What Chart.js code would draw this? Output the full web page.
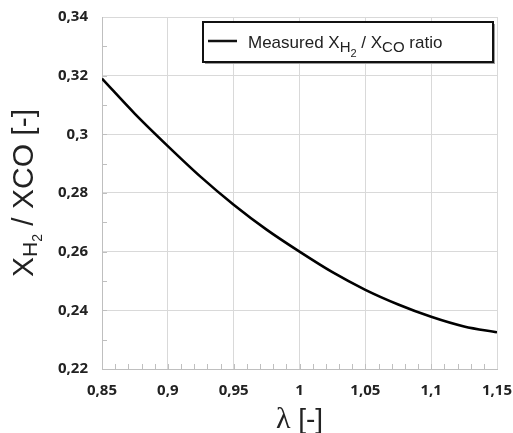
<!DOCTYPE html>
<html lang="en">
<head>
<meta charset="UTF-8">
<title>XH2 / XCO ratio vs lambda</title>
<script src="https://cdn.jsdelivr.net/npm/chart.js"></script>
<style>
  html, body { margin: 0; padding: 0; background: #fff; }
  #wrap { width: 513px; height: 433px; }
</style>
</head>
<body>
<div id="wrap"><canvas id="ratioChart"></canvas></div>
<script>
// data
const lambdaValues = [0.85, 0.875, 0.9, 0.925, 0.95, 0.975, 1.0, 1.025, 1.05, 1.075, 1.1, 1.125, 1.15];
const ratioValues  = [0.319, 0.307, 0.296, 0.2855, 0.276, 0.2675, 0.26, 0.253, 0.247, 0.242, 0.2378, 0.2345, 0.2325];
const xTickValues  = [0.85, 0.9, 0.95, 1, 1.05, 1.1, 1.15];
const yTickValues  = [0.22, 0.24, 0.26, 0.28, 0.3, 0.32, 0.34];
const xMinorStep = 0.01;
const yMinorStep = 0.01;

const fmt = v => String(+v.toFixed(2)).replace('.', ',');

// draws a row of text pieces with sub/sub-sub offsets, returns width
function pieceWidth(ctx, parts) {
    let w = 0;
    parts.forEach(p => { ctx.font = p.font; w += ctx.measureText(p.t).width; });
    return w;
}
function drawPieces(ctx, parts, x, y) {
    parts.forEach(p => {
        ctx.font = p.font;
        ctx.fillText(p.t, x, y + (p.dy || 0));
        x += ctx.measureText(p.t).width;
    });
}

const decorPlugin = {
    id: 'decor',
    beforeDatasetsDraw(chart) {
        const ctx = chart.ctx;
        const { left, right, top, bottom } = chart.chartArea;
        const xs = chart.scales.x, ys = chart.scales.y;
        ctx.save();
        ctx.strokeStyle = '#bfbfbf';
        ctx.lineWidth = 1;
        ctx.beginPath();
        for (let v = xs.min + xMinorStep; v < xs.max - 1e-6; v += xMinorStep) {
            const px = Math.round(xs.getPixelForValue(v)) + 0.5;
            ctx.moveTo(px, bottom);
            ctx.lineTo(px, bottom - 5);
        }
        for (let v = ys.min + yMinorStep; v < ys.max - 1e-6; v += yMinorStep) {
            const py = Math.round(ys.getPixelForValue(v)) + 0.5;
            ctx.moveTo(left, py);
            ctx.lineTo(left + 5, py);
        }
        ctx.stroke();
        ctx.restore();
    },
    afterDraw(chart) {
        const ctx = chart.ctx;
        const { left, right, top, bottom } = chart.chartArea;
        ctx.save();
        ctx.fillStyle = '#222';
        ctx.textBaseline = 'alphabetic';
        ctx.textAlign = 'left';

        // y axis title
        const yParts = [
            { t: 'X', font: '30px "Liberation Sans"' },
            { t: 'H', font: '21px "Liberation Sans"', dy: 4 },
            { t: '2', font: '14px "Liberation Sans"', dy: 9 },
            { t: ' / XCO [-]', font: '30px "Liberation Sans"' }
        ];
        const yw = pieceWidth(ctx, yParts);
        ctx.save();
        ctx.translate(33, (top + bottom) / 2 + yw / 2);
        ctx.rotate(-Math.PI / 2);
        drawPieces(ctx, yParts, 0, 0);
        ctx.restore();

        // x axis title
        const xParts = [
            { t: 'λ', font: '30px "Liberation Serif"' },
            { t: ' [-]', font: '28px "Liberation Sans"' }
        ];
        const xw = pieceWidth(ctx, xParts);
        drawPieces(ctx, xParts, (left + right) / 2 - xw / 2, 428);

        // legend box
        const bx = left + 101, by = top + 5, bw = right - 4 - bx, bh = 40;
        ctx.fillStyle = '#9a9a9a';
        ctx.fillRect(bx + 2, by + 2, bw, bh);
        ctx.fillStyle = '#fff';
        ctx.fillRect(bx, by, bw, bh);
        ctx.strokeStyle = '#111';
        ctx.lineWidth = 2;
        ctx.strokeRect(bx, by, bw, bh);
        ctx.beginPath();
        ctx.lineWidth = 2.5;
        ctx.moveTo(bx + 5, by + 19);
        ctx.lineTo(bx + 34, by + 19);
        ctx.stroke();
        ctx.fillStyle = '#222';
        drawPieces(ctx, [
            { t: 'Measured X', font: '17px "Liberation Sans"' },
            { t: 'H', font: '15px "Liberation Sans"', dy: 4 },
            { t: '2', font: '11px "Liberation Sans"', dy: 9 },
            { t: ' / X', font: '17px "Liberation Sans"' },
            { t: 'CO', font: '15px "Liberation Sans"', dy: 4 },
            { t: ' ratio', font: '17px "Liberation Sans"' }
        ], bx + 45, by + 26);
        ctx.restore();
    }
};

const tickFont = { family: '"Open Sans"', size: 15, weight: 'bold' };

new Chart(document.getElementById('ratioChart'), {
    type: 'scatter',
    data: {
        datasets: [{
            label: 'Measured XH2 / XCO ratio',
            data: lambdaValues.map((x, i) => ({ x: x, y: ratioValues[i] })),
            showLine: true,
            borderColor: '#000',
            borderWidth: 2.6,
            pointRadius: 0,
            cubicInterpolationMode: 'monotone'
        }]
    },
    options: {
        responsive: true,
        maintainAspectRatio: false,
        animation: false,
        layout: { padding: { top: 17, right: 16, left: 0, bottom: 0 } },
        plugins: { legend: { display: false }, tooltip: { enabled: false } },
        scales: {
            x: {
                type: 'linear',
                min: 0.85, max: 1.15,
                afterBuildTicks: s => { s.ticks = xTickValues.map(v => ({ value: v })); },
                afterFit: s => { s.height = 64; s.paddingLeft = 0; s.paddingRight = 0; },
                grid: { color: '#d9d9d9', drawTicks: false },
                border: { color: '#bfbfbf' },
                ticks: { font: tickFont, color: '#222', padding: 13, maxRotation: 0, callback: v => fmt(v) }
            },
            y: {
                min: 0.22, max: 0.34,
                afterBuildTicks: s => { s.ticks = yTickValues.map(v => ({ value: v })); },
                afterFit: s => { s.width = 102; s.paddingTop = 0; s.paddingBottom = 0; },
                grid: { color: '#d9d9d9', drawTicks: false },
                border: { color: '#bfbfbf' },
                ticks: { font: tickFont, color: '#222', padding: 14, callback: v => fmt(v) }
            }
        }
    },
    plugins: [decorPlugin]
});
</script>
</body>
</html>
